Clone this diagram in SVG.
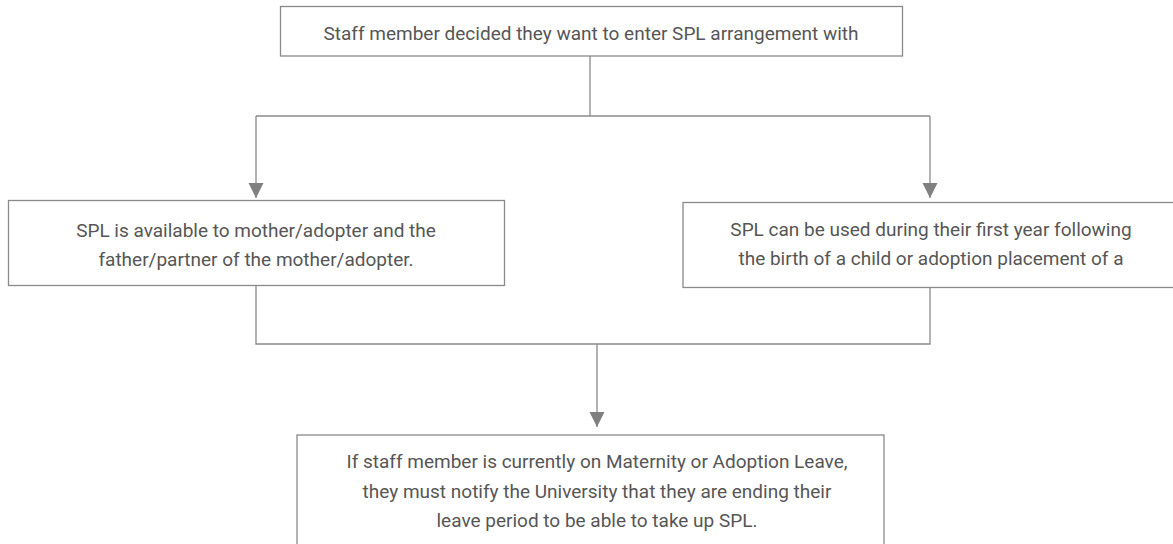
<svg xmlns="http://www.w3.org/2000/svg" width="1173" height="544" viewBox="0 0 1173 544">
<style>
.box{fill:#ffffff;stroke:#8a8a8a;stroke-width:1.3}
.lbl{font-family:Roboto,"Noto Sans","Liberation Sans",sans-serif;font-size:19px;fill:#565656;text-anchor:middle}
.con{fill:none;stroke:#8a8a8a;stroke-width:1.3}
</style>
<defs>
<marker id="arr" markerUnits="userSpaceOnUse" markerWidth="16" markerHeight="16" refX="15" refY="7.5" orient="auto">
<path d="M0,0 L15,7.5 L0,15 z" fill="#808080"/>
</marker>
</defs>
<rect x="0" y="0" width="1173" height="544" fill="#ffffff"/>
<g id="connectors">
<path class="con" d="M590 56 V116"/>
<path class="con" d="M256 116 H930"/>
<path class="con" d="M256 116 V198" marker-end="url(#arr)"/>
<path class="con" d="M930 116 V198" marker-end="url(#arr)"/>
<path class="con" d="M256 285 V344 H930 V285"/>
<path class="con" d="M597 344 V427" marker-end="url(#arr)"/>
</g>
<g id="node-top">
<rect class="box" x="280.5" y="6.5" width="622" height="49.5"/>
<text class="lbl" x="591" y="40">Staff member decided they want to enter SPL arrangement with</text>
</g>
<g id="node-left">
<rect class="box" x="8.5" y="200.5" width="496" height="85"/>
<text class="lbl" x="256" y="237">SPL is available to mother/adopter and the</text>
<text class="lbl" x="256" y="266">father/partner of the mother/adopter.</text>
</g>
<g id="node-right">
<rect class="box" x="683" y="202.5" width="500" height="85"/>
<text class="lbl" x="931" y="236">SPL can be used during their first year following</text>
<text class="lbl" x="931" y="265">the birth of a child or adoption placement of a</text>
</g>
<g id="node-bottom">
<rect class="box" x="297" y="435" width="587" height="120"/>
<text class="lbl" x="597" y="468">If staff member is currently on Maternity or Adoption Leave,</text>
<text class="lbl" x="597" y="498">they must notify the University that they are ending their</text>
<text class="lbl" x="597" y="527">leave period to be able to take up SPL.</text>
</g>
</svg>
